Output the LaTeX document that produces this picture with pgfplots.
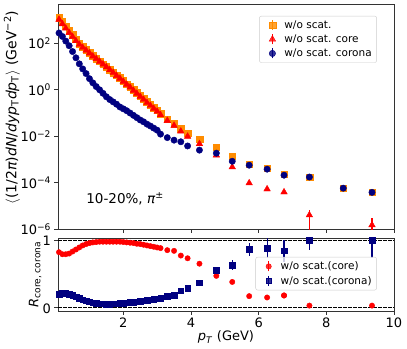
\documentclass[border=0pt]{standalone}
\usepackage{fontspec}
\setmainfont{DejaVu Sans}
\usepackage{pgfplots}
\pgfplotsset{compat=1.18}
\definecolor{myorange}{HTML}{FF8C00}
\definecolor{navy}{HTML}{000080}
\newcommand{\tfont}{\fontsize{13bp}{15bp}\selectfont}
\newcommand{\lfont}{\fontsize{10.5bp}{12.5bp}\selectfont}
\pgfplotsset{
  base/.style={
    scale only axis, width=336bp, xmin=0.07, xmax=10,
    xtick={2,4,6,8,10}, xtick pos=lower, ytick pos=left,
    tick align=outside, major tick length=3.5bp, minor tick num=0,
    axis line style={black!80, line width=0.8bp},
    every tick/.style={black!80, line width=0.8bp},
    tick label style={font=\tfont}, label style={font=\tfont},
    /pgf/number format/assume math mode=true,
    legend cell align=left,
    legend style={draw=black!20, rounded corners=2bp, fill=white, fill opacity=0.8, text opacity=1,
      font=\lfont, row sep=1bp, inner xsep=3bp, inner ysep=2.5bp},
    legend image code/.code={
      \path[draw=none, fill=none] (0bp,0bp) -- (20bp,0bp);
      \draw[#1, mark=none, line width=1.2bp] (10bp,-5bp) -- (10bp,5bp);
      \draw[#1] plot coordinates {(10bp,0bp)};
    },
  },
}
\begin{document}
\begin{tikzpicture}
\path[use as bounding box] (-58bp,4bp) rectangle (349bp,-345bp);
\begin{axis}[base, name=top, at={(0,0)}, anchor=north west, height=225bp,
  ymode=log, ymin=1e-6, ymax=5e3, xticklabels={},
  ytick={1e-6,1e-4,1e-2,1,1e2},
  yticklabels={10\textsuperscript{−6},10\textsuperscript{−4},10\textsuperscript{−2},10\textsuperscript{0},10\textsuperscript{2}},
  ylabel={$\langle$(1/2\textit{π})\textit{dN}/\textit{dyp}\textsubscript{T}\textit{dp}\textsubscript{T}$\rangle$ (GeV\textsuperscript{−2})},
  ylabel style={at={(axis description cs:-0.137,0.54)}, anchor=center, font=\fontsize{14bp}{16bp}\selectfont},
  legend style={at={(0.949,0.947)}, anchor=north east},
]
\addplot[only marks, mark=square*, mark size=3.3bp, color=myorange] coordinates {
(0.1,1.318e3) (0.2,8.710e2) (0.3,5.623e2) (0.4,3.631e2) (0.5,2.344e2) (0.6,1.514e2)
(0.7,1.000e2) (0.8,7.244e1) (0.9,5.370e1) (1.0,3.981e1) (1.1,2.951e1) (1.2,2.239e1)
(1.3,1.698e1) (1.4,1.288e1) (1.5,9.772) (1.6,7.413) (1.7,5.623) (1.8,4.266)
(1.9,3.236) (2.0,2.399) (2.1,1.778) (2.2,1.349) (2.3,1.000) (2.4,0.7413)
(2.5,0.5495) (2.6,0.4074) (2.7,0.3020) (2.8,0.2291) (2.9,0.1738) (3.0,0.1318)
(3.1,0.0955) (3.3,0.05495) (3.5,0.03467) (3.7,0.02089) (3.9,0.01349) (4.25,7.413e-3)
(4.75,3.388e-3) (5.22,1.380e-3) (5.72,6.310e-4) (6.25,4.169e-4) (6.75,2.344e-4)
(7.5,1.738e-4) (8.5,5.754e-5) (9.35,3.890e-5)
};
\addlegendentry{w/o scat.}
\addplot[only marks, mark=triangle*, mark size=3.8bp, color=red] coordinates {
(0.1,1.072e3) (0.2,6.918e2) (0.3,4.467e2) (0.4,2.884e2) (0.5,1.950e2) (0.6,1.288e2)
(0.7,8.913e1) (0.8,6.607e1) (0.9,5.012e1) (1.0,3.802e1) (1.1,2.818e1) (1.2,2.188e1)
(1.3,1.660e1) (1.4,1.259e1) (1.5,9.550) (1.6,7.244) (1.7,5.495) (1.8,4.074)
(1.9,3.090) (2.0,2.291) (2.1,1.698) (2.2,1.288) (2.3,0.9333) (2.4,0.6918)
(2.5,0.5129) (2.6,0.3802) (2.7,0.2754) (2.8,0.2089) (2.9,0.1549) (3.0,0.1175)
(3.1,0.08318) (3.3,0.04677) (3.5,0.02884) (3.7,0.01622) (3.9,9.772e-3) (4.25,4.677e-3)
(4.75,1.514e-3) (5.22,4.677e-4) (5.72,9.550e-5) (6.25,5.248e-5) (6.75,3.890e-5)
};
\addlegendentry{w/o scat. core}
\addplot[only marks, mark=*, mark size=3.2bp, color=navy] coordinates {
(0.1,2.818e2) (0.2,1.995e2) (0.3,1.259e2) (0.4,7.943e1) (0.5,4.467e1) (0.6,2.399e1)
(0.7,1.318e1) (0.8,7.943) (0.9,5.012) (1.0,3.020) (1.1,1.995) (1.2,1.380)
(1.3,1.000) (1.4,0.7079) (1.5,0.5012) (1.6,0.3802) (1.7,0.3020) (1.8,0.2399)
(1.9,0.1820) (2.0,0.1514) (2.1,0.1259) (2.2,0.1000) (2.3,0.07943) (2.4,0.06310)
(2.5,0.05012) (2.6,0.04169) (2.7,0.03311) (2.8,0.02754) (2.9,0.02239) (3.0,0.01820)
(3.1,0.01230) (3.3,8.710e-3) (3.5,6.761e-3) (3.7,5.754e-3) (3.9,3.802e-3) (4.25,2.512e-3)
(4.75,1.862e-3) (5.22,8.318e-4) (5.72,5.623e-4) (6.25,3.802e-4) (6.75,2.089e-4)
(7.5,1.738e-4) (8.5,5.754e-5) (9.35,3.802e-5)
};
\addlegendentry{w/o scat. corona}
% core points with large errors
\addplot[forget plot, only marks, mark=triangle*, mark size=3.8bp, color=red,
  error bars/.cd, y dir=both, y explicit, error mark=none,
  error bar style={line width=1.2bp, red}] coordinates {
(7.5,3.981e-6) += (0,2.63e-6) -= (0,3.5e-6)
(9.35,1.479e-6) += (0,1.47e-6) -= (0,1.3e-6)
};
\node[font=\fontsize{13.5bp}{16bp}\selectfont, anchor=west] at (rel axis cs:0.074,0.133) {10-20\%, \textit{π}\textsuperscript{±}};
\end{axis}

\begin{axis}[base, name=bot, at={(0,-234bp)}, anchor=north west, height=73bp,
  ymin=-0.05, ymax=1.03, ytick={0,1},
  yticklabel style={yshift=-1bp},
  xlabel={\textit{p}\textsubscript{\textit{T}} (GeV)},
  xlabel style={at={(axis description cs:0.5,-0.36)}, anchor=center},
  ylabel={\textit{R}\textsubscript{core, corona}},
  ylabel style={at={(axis description cs:-0.068,0.5)}, anchor=center},
  legend style={at={(0.949,0.74)}, anchor=north east},
]
\addplot[forget plot, black, line width=0.8bp, dash pattern=on 3.5bp off 1.5bp] coordinates {(0.07,0) (10,0)};
\addplot[forget plot, black, line width=0.8bp, dash pattern=on 3.5bp off 1.5bp] coordinates {(0.07,1) (10,1)};
\addplot[only marks, mark=*, mark size=2.7bp, color=red] coordinates {
(0.1,0.82) (0.2,0.79) (0.3,0.79) (0.4,0.80) (0.5,0.83) (0.6,0.86) (0.7,0.89)
(0.8,0.92) (0.9,0.94) (1.0,0.955) (1.1,0.965) (1.2,0.97) (1.3,0.975) (1.4,0.975)
(1.5,0.975) (1.6,0.975) (1.7,0.975) (1.8,0.975) (1.9,0.975) (2.0,0.97) (2.1,0.965)
(2.2,0.96) (2.3,0.955) (2.4,0.945) (2.5,0.94) (2.6,0.93) (2.7,0.92) (2.8,0.91)
(2.9,0.90) (3.0,0.89) (3.1,0.88) (3.3,0.85) (3.5,0.84) (3.7,0.77) (3.9,0.73)
(4.25,0.65) (4.75,0.47) (5.22,0.38) (5.72,0.17) (6.25,0.15) (6.75,0.18) (7.5,0.03) (9.35,0.03)
};
\addlegendentry{w/o scat.(core)}
\addplot[only marks, mark=square*, mark size=2.8bp, color=navy] coordinates {
(0.1,0.20) (0.2,0.21) (0.3,0.21) (0.4,0.20) (0.5,0.18) (0.6,0.16) (0.7,0.14)
(0.8,0.12) (0.9,0.10) (1.0,0.085) (1.1,0.075) (1.2,0.065) (1.3,0.06) (1.4,0.057)
(1.5,0.055) (1.6,0.055) (1.7,0.057) (1.8,0.06) (1.9,0.065) (2.0,0.068) (2.1,0.072)
(2.2,0.076) (2.3,0.08) (2.4,0.086) (2.5,0.092) (2.6,0.10) (2.7,0.108) (2.8,0.116)
(2.9,0.124) (3.0,0.132) (3.1,0.14) (3.3,0.17) (3.5,0.18) (3.7,0.25) (3.9,0.29)
(4.25,0.37)
};
\addlegendentry{w/o scat.(corona)}
\addplot[forget plot, only marks, mark=*, mark size=2.7bp, color=red,
  error bars/.cd, y dir=both, y explicit, error mark=none,
  error bar style={line width=1.2bp, red}] coordinates {
(6.75,0.18) +- (0,0.03)
};
\addplot[forget plot, only marks, mark=square*, mark size=2.8bp, color=navy,
  error bars/.cd, y dir=both, y explicit, error mark=none,
  error bar style={line width=1.2bp, navy}] coordinates {
(4.75,0.55) +- (0,0.02) (5.22,0.63) +- (0,0.07) (5.72,0.86) +- (0,0.10)
(6.25,0.88) +- (0,0.15) (6.75,0.84) +- (0,0.16) (7.5,1.0) +- (0,0.15) (9.35,1.0) +- (0,0.26)
};
\end{axis}
\end{tikzpicture}
\end{document}
